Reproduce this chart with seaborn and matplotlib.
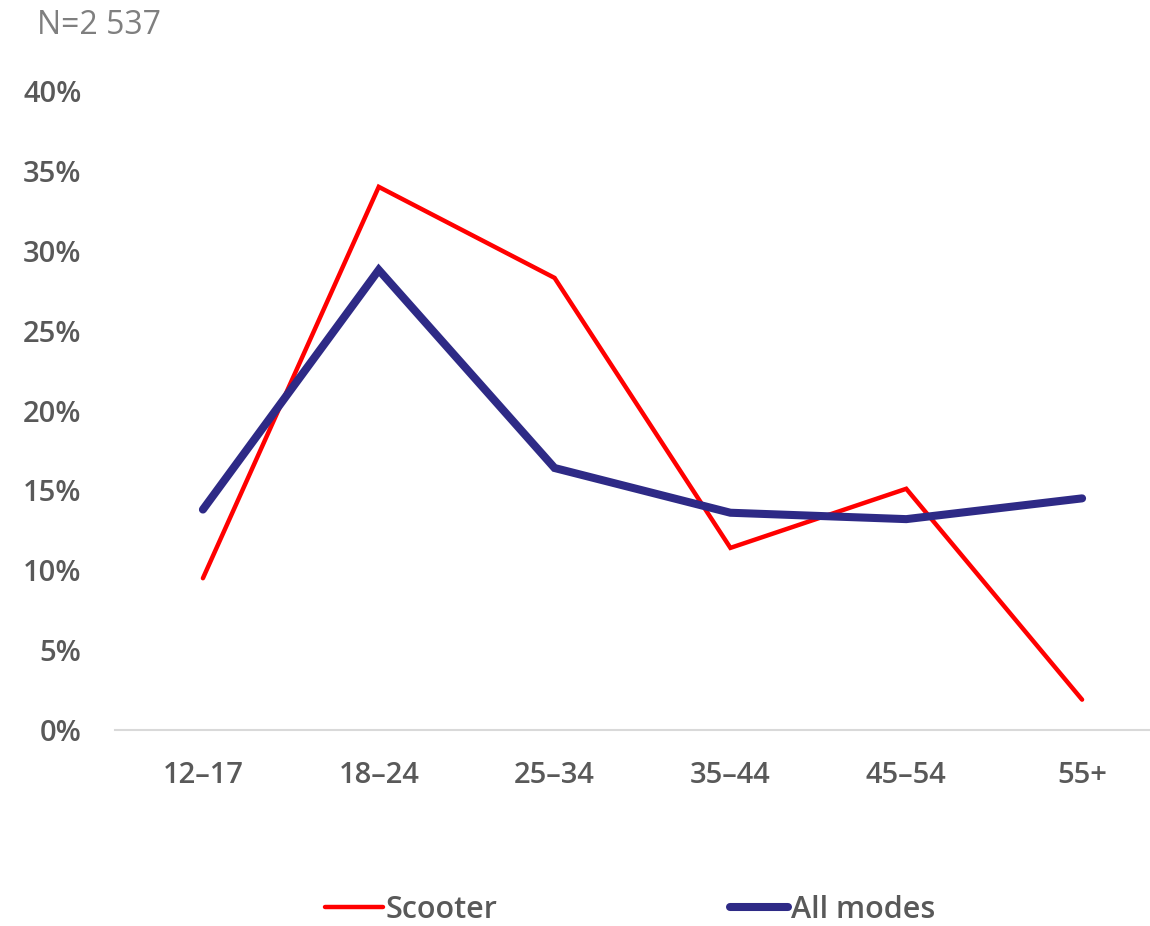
import matplotlib
matplotlib.use("Agg")
import matplotlib.pyplot as plt
import seaborn as sns
import pandas as pd
from matplotlib.lines import Line2D

categories = ["12–17", "18–24", "25–34", "35–44", "45–54", "55+"]
scooter = [9.5, 34.0, 28.3, 11.4, 15.1, 1.9]
all_modes = [13.8, 28.8, 16.4, 13.6, 13.2, 14.5]
series_names = ["Scooter", "All modes"]
yticks = [0, 5, 10, 15, 20, 25, 30, 35, 40]

sns.set_theme(style="white")
plt.rcParams["font.family"] = ["Open Sans", "DejaVu Sans"]

df = pd.DataFrame({
    "age": categories * 2,
    "pct": scooter + all_modes,
    "series": [series_names[0]] * len(categories) + [series_names[1]] * len(categories),
})

colors = {"Scooter": "#FF0000", "All modes": "#2E2A86"}
widths = {"Scooter": 3.2, "All modes": 5.8}

fig = plt.figure(figsize=(11.5, 9.26), dpi=100)
ax = fig.add_axes([115 / 1150, 1 - 730 / 926, 1055 / 1150, 639 / 926])

sns.lineplot(data=df, x="age", y="pct", hue="series", size="series",
             palette=colors, sizes=widths, sort=False, ax=ax, legend=False)
for line in ax.lines:
    line.set_solid_capstyle("round")
    line.set_solid_joinstyle("miter")

ax.set_xlim(-0.5, len(categories) - 0.5)
ax.set_ylim(0, 40)
ax.set_yticks(yticks)
ax.set_yticklabels([f"{v}%" for v in yticks])
ax.set_xlabel("")
ax.set_ylabel("")
for s in ["top", "right", "left"]:
    ax.spines[s].set_visible(False)
ax.spines["bottom"].set_color("#D9D9D9")
ax.spines["bottom"].set_linewidth(1.5)
ax.tick_params(axis="both", length=0, labelsize=21, labelcolor="#595959")
ax.tick_params(axis="y", pad=24)
ax.tick_params(axis="x", pad=22)
for lab in ax.get_xticklabels() + ax.get_yticklabels():
    lab.set_fontweight("semibold")

fig.text(37 / 1150, 1 - 26 / 926, "N=2 537", fontsize=23, color="#7F7F7F",
         va="center", ha="left")

handles = [Line2D([0], [0], color=colors[n], lw=widths[n], solid_capstyle="round")
           for n in series_names]
leg = fig.legend(handles, series_names, loc="center left",
                 bbox_to_anchor=(297 / 1150, 1 - 910 / 926),
                 ncol=2, frameon=False, handlelength=1.9, handletextpad=0.1,
                 columnspacing=7.6, fontsize=22)
for t in leg.get_texts():
    t.set_color("#595959")
    t.set_fontweight("semibold")

fig.savefig("out.png", dpi=100)
